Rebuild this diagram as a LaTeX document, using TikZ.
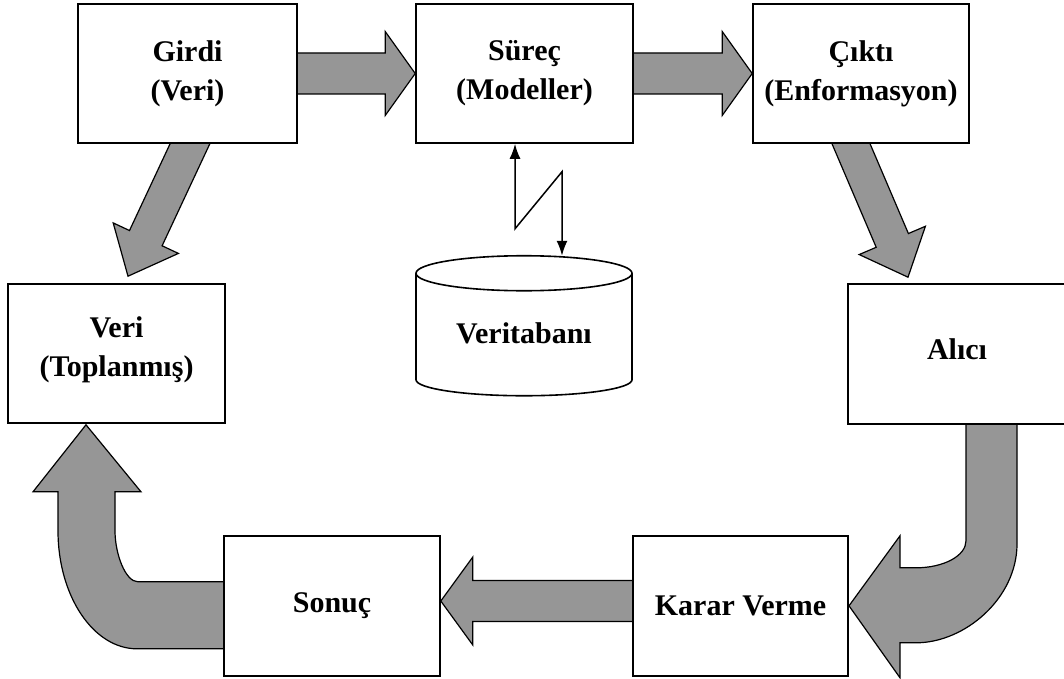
\documentclass[tikz,border=0pt]{standalone}
\usepackage{fontspec}
\setmainfont{Liberation Serif}
\usetikzlibrary{calc,arrows.meta,backgrounds}
\definecolor{arrowgray}{RGB}{150,150,150}

% Block arrow from tail #1 to tip #2: shaft half width #3, head half width #4, head length #5
\newcommand\blockarrow[5]{%
  \coordinate (tmpH) at ($(#2)!#5!(#1)$);
  \draw[barrow] ($(#1)!#3!90:(#2)$) -- ($(tmpH)!#3!90:(#2)$) -- ($(tmpH)!#4!90:(#2)$)
    -- (#2) -- ($(tmpH)!#4!-90:(#2)$) -- ($(tmpH)!#3!-90:(#2)$) -- ($(#1)!#3!-90:(#2)$) -- cycle;
}
% extra depth below the last text line, lifting the text inside its box
\newcommand\liftby[1]{\rule[-#1]{0pt}{#1}}

\begin{document}
\begin{tikzpicture}[x=1pt,y=-1pt,
  box/.style={draw, line width=1.6pt, fill=white, minimum width=#1, minimum height=139pt,
    inner sep=0pt, align=center, font=\fontsize{30}{39}\selectfont\bfseries},
  barrow/.style={fill=arrowgray, draw=black, line width=1.2pt, line join=miter},
  link/.style={line width=1.5pt, {Latex[length=15pt,width=11pt]}-{Latex[length=15pt,width=11pt]}},
  dbtext/.style={inner sep=0pt, font=\fontsize{30}{39}\selectfont\bfseries}
]
\useasboundingbox (0,0) rectangle (1064,679);

% process boxes
\node[box=219pt] (girdi) at (187.5,73.5) {Girdi\\(Veri)\liftby{4pt}};
\node[box=217pt] (surec) at (524.5,73.5) {Süreç\\(Modeller)\liftby{4pt}};
\node[box=216pt] (cikti) at (861,73.5) {Çıktı\\(Enformasyon)\liftby{4pt}};
\node[box=217pt] (veri) at (116.5,353.5) {Veri\\(Toplanmış)\liftby{14pt}};
\node[box=218pt, minimum height=140pt] (alici) at (957,354) {Alıcı\liftby{10pt}};
\node[box=216pt, minimum height=140pt] (sonuc) at (332,606) {Sonuç\liftby{4pt}};
\node[box=215pt, minimum height=140pt] (karar) at (740.5,606) {Karar Verme};

% database cylinder
\coordinate (dbtop) at (524,255.75);
\begin{scope}[shift={(dbtop)}, line width=1.6pt]
  \draw (0,17.5) ellipse [x radius=108pt, y radius=17.5pt];
  \draw (-108,17.5) -- (-108,124)
    .. controls (-108,132.8) and (-59.6,140) .. (0,140)
    .. controls (59.6,140) and (108,132.8) .. (108,124) -- (108,17.5);
\end{scope}
\node[dbtext] (db) at (524,333.5) {Veritabanı};

% two-way link between process and database
\draw[link] ($(surec.south)+(-9.5,0)$) -- ++(0,85) -- ($(dbtop)+(38,-84)$) -- ($(dbtop)+(38,0)$);

\begin{scope}[on background layer]
  % straight block arrows
  \coordinate (a1s) at ($(girdi.east)+(-6,0)$);
  \coordinate (a1e) at (surec.west);
  \blockarrow{a1s}{a1e}{20.5pt}{42pt}{30pt}
  \coordinate (a2s) at ($(surec.east)+(-6,0)$);
  \coordinate (a2e) at (cikti.west);
  \blockarrow{a2s}{a2e}{20.5pt}{42pt}{30pt}
  \coordinate (a3s) at ($(karar.west)+(6,-5)$);
  \coordinate (a3e) at ($(sonuc.east)+(0,-5)$);
  \blockarrow{a3s}{a3e}{20.5pt}{44pt}{32pt}
  \coordinate (a4s) at ($(girdi.south)+(6.7,-9.1)$);
  \coordinate (a4e) at ($(veri.north)+(11.5,-7)$);
  \blockarrow{a4s}{a4e}{18pt}{36pt}{42pt}
  \coordinate (a5s) at ($(cikti.south)+(-13.9,-9.2)$);
  \coordinate (a5e) at ($(alici.north)+(-49,-6)$);
  \blockarrow{a5s}{a5e}{17.5pt}{36pt}{40pt}

  % curved arrow from Alıcı down to Karar Verme
  \begin{scope}[shift={(alici.south)}]
    \draw[barrow] (9,-6) -- (9,116) .. controls (9,131) and (-13.4,143) .. (-41,143)
      -- (-57,143) -- (-57,111) -- (-108,181) -- (-57,253) -- (-57,218)
      -- (-41,218) .. controls (7.6,218) and (60,173.7) .. (60,119) -- (60,-6) -- cycle;
  \end{scope}

  % curved arrow from Sonuç up to Veri (Toplanmış)
  \begin{scope}[shift={(veri.south)}]
    \draw[barrow] (115.5,158) -- (21.5,158) .. controls (8.8,158) and (-1.5,129.8) .. (-1.5,107)
      -- (-1.5,68) -- (24.5,68) -- (-30.5,1) -- (-83.5,68) -- (-58.5,68) -- (-58.5,107)
      .. controls (-58.5,172.2) and (-23.1,225) .. (20.5,225) -- (115.5,225) -- cycle;
  \end{scope}
\end{scope}
\end{tikzpicture}
\end{document}
